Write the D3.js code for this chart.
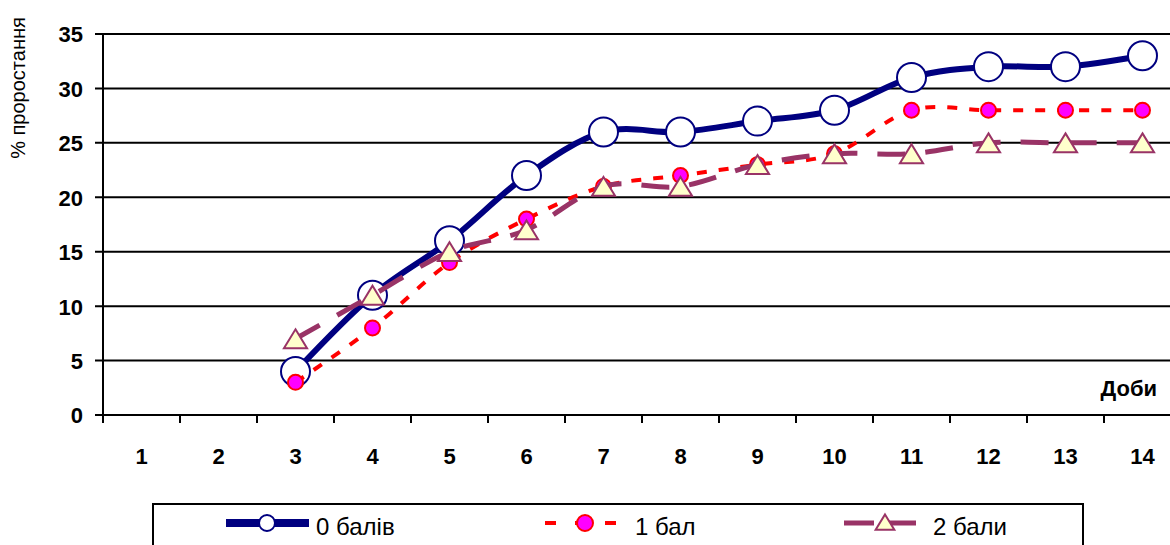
<!DOCTYPE html>
<html>
<head>
<meta charset="utf-8">
<script src="https://cdn.jsdelivr.net/npm/d3@7/dist/d3.min.js"></script>
<style>
  html, body { margin: 0; padding: 0; background: #fff; }
  svg { display: block; font-family: Arial, "Liberation Sans", sans-serif; }
</style>
</head>
<body>
<svg id="chart" width="1170" height="545"></svg>
<script>
// Days on the horizontal axis
const days = [1, 2, 3, 4, 5, 6, 7, 8, 9, 10, 11, 12, 13, 14];
// Days with germination readings
const obsDays = [3, 4, 5, 6, 7, 8, 9, 10, 11, 12, 13, 14];
// Germination, % (by score)
const score0 = [4, 11, 16, 22, 26, 26, 27, 28, 31, 32, 32, 33];
const score1 = [3, 8, 14, 18, 21, 22, 23, 24, 28, 28, 28, 28];
const score2 = [7, 11, 15, 17, 21, 21, 23, 24, 24, 25, 25, 25];
const seriesNames = ["0 балів", "1 бал", "2 бали"];
const yTicks = [0, 5, 10, 15, 20, 25, 30, 35];
const yTitle = "% проростання";
const xTitle = "Доби";

const svg = d3.select("#chart");
const plotL = 103, plotR = 1181, plotT = 34, plotB = 415;

const x = d3.scaleBand().domain(days).range([plotL, plotR]).padding(0);
const y = d3.scaleLinear().domain([0, 35]).range([plotB, plotT]);
const cx = d => x(d) + x.bandwidth() / 2;

// Horizontal gridlines (with left tick stubs)
svg.append("g").selectAll("line").data(yTicks).join("line")
  .attr("x1", plotL - 8).attr("x2", plotR)
  .attr("y1", d => y(d)).attr("y2", d => y(d))
  .attr("stroke", "#000").attr("stroke-width", 2);

// Y axis
const yAxis = d3.axisLeft(y).tickValues(yTicks).tickSize(0).tickPadding(0);
const gy = svg.append("g").attr("transform", `translate(${plotL - 20},0)`).call(yAxis);
gy.select(".domain").remove();
gy.selectAll("text").attr("font-size", 22).attr("font-weight", "bold")
  .attr("fill", "#000").attr("font-family", "Arial, 'Liberation Sans', sans-serif")
  .attr("dy", "0.36em");
svg.append("line").attr("x1", plotL).attr("x2", plotL).attr("y1", plotT).attr("y2", plotB + 1)
  .attr("stroke", "#000").attr("stroke-width", 2);

// X axis: ticks at category boundaries, labels at centres
svg.append("g").selectAll("line").data(days.concat([15])).join("line")
  .attr("x1", (d, i) => plotL + i * x.bandwidth()).attr("x2", (d, i) => plotL + i * x.bandwidth())
  .attr("y1", plotB).attr("y2", plotB + 8)
  .attr("stroke", "#000").attr("stroke-width", 2);
const xAxis = d3.axisBottom(x).tickSize(0).tickPadding(0);
const gx = svg.append("g").attr("transform", `translate(0,${plotB})`).call(xAxis);
gx.select(".domain").remove();
gx.selectAll("text").attr("font-size", 22).attr("font-weight", "bold")
  .attr("fill", "#000").attr("font-family", "Arial, 'Liberation Sans', sans-serif")
  .attr("dy", null).attr("y", 49);

// Axis titles
svg.append("text").attr("x", 1157).attr("y", 396).attr("text-anchor", "end")
  .attr("font-size", 22).attr("font-weight", "bold").text(xTitle);
svg.append("text").attr("transform", "translate(25,88) rotate(-90)")
  .attr("text-anchor", "middle").attr("font-size", 20).text(yTitle);

const line = d3.line().x((d, i) => cx(obsDays[i])).y(d => y(d))
  .curve(d3.curveCardinal.tension(0));

const styles = [
  { stroke: "#000080", width: 6, dash: null },
  { stroke: "#FF0000", width: 4, dash: "10,12" },
  { stroke: "#993366", width: 5, dash: "28,20" }
];
const tri = r => `M0,${-r}L${r * 1.1},${r * 0.8}L${-r * 1.1},${r * 0.8}Z`;

function marker(g, k, px, py, big) {
  if (k === 0) {
    g.append("circle").attr("cx", px).attr("cy", py).attr("r", big ? 14.5 : 8)
      .attr("fill", "#fff").attr("stroke", "#000080").attr("stroke-width", 2);
  } else if (k === 1) {
    g.append("circle").attr("cx", px).attr("cy", py).attr("r", big ? 7.5 : 8)
      .attr("fill", "#FF00FF").attr("stroke", "#FF0000").attr("stroke-width", 2);
  } else {
    g.append("path").attr("transform", `translate(${px},${py + (big ? 1 : 0)})`)
      .attr("d", tri(big ? 10.5 : 8.5))
      .attr("fill", "#FFFFCC").attr("stroke", "#993366").attr("stroke-width", 2);
  }
}

[score0, score1, score2].forEach((vals, k) => {
  const g = svg.append("g");
  g.append("path").datum(vals).attr("d", line).attr("fill", "none")
    .attr("stroke", styles[k].stroke).attr("stroke-width", styles[k].width)
    .attr("stroke-dasharray", styles[k].dash);
  vals.forEach((v, i) => marker(g, k, cx(obsDays[i]), y(v), true));
});

// Legend
const lg = svg.append("g");
lg.append("rect").attr("x", 153).attr("y", 504).attr("width", 930).attr("height", 60)
  .attr("fill", "#fff").attr("stroke", "#000").attr("stroke-width", 2);
const legendItems = [
  { x1: 226, x2: 309, mx: 267, tx: 316 },
  { x1: 545, x2: 616, mx: 585, tx: 635 },
  { x1: 844, x2: 927, mx: 885, tx: 933 }
];
legendItems.forEach((it, k) => {
  const ly = 523;
  lg.append("line").attr("x1", it.x1).attr("x2", it.x2).attr("y1", ly).attr("y2", ly)
    .attr("stroke", styles[k].stroke).attr("stroke-width", styles[k].width + (k === 0 ? 2 : 0))
    .attr("stroke-dasharray", k === 1 ? "11,19" : (k === 2 ? "30,12" : null));
  marker(lg, k, it.mx, ly, false);
  lg.append("text").attr("x", it.tx).attr("y", 535).attr("font-size", 24).text(seriesNames[k]);
});
</script>
</body>
</html>
